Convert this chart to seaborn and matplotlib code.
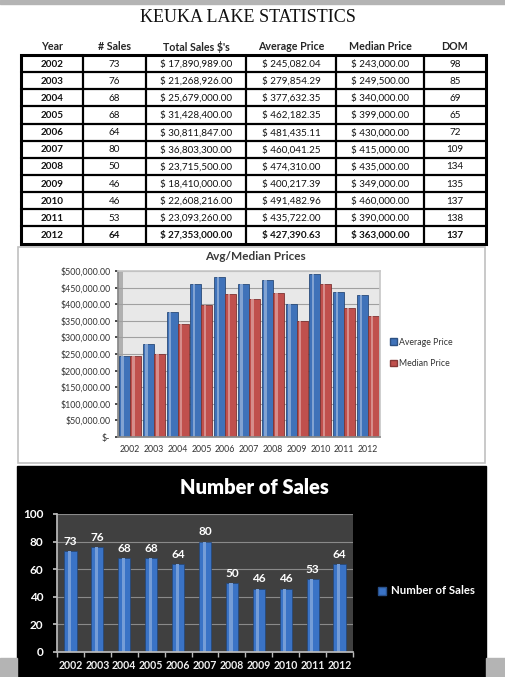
import numpy as np
import pandas as pd
import seaborn as sns
import matplotlib.pyplot as plt
from matplotlib.patches import Rectangle
from matplotlib.colors import to_rgb

# %%
# data
years = ['2002', '2003', '2004', '2005', '2006', '2007', '2008', '2009', '2010', '2011', '2012']
num_sales = [73, 76, 68, 68, 64, 80, 50, 46, 46, 53, 64]
total_sales = [17890989.00, 21268926.00, 25679000.00, 31428400.00, 30811847.00, 36803300.00,
               23715500.00, 18410000.00, 22608216.00, 23093260.00, 27353000.00]
avg_price = [245082.04, 279854.29, 377632.35, 462182.35, 481435.11, 460041.25,
             474310.00, 400217.39, 491482.96, 435722.00, 427390.63]
median_price = [243000.00, 249500.00, 340000.00, 399000.00, 430000.00, 415000.00,
                435000.00, 349000.00, 460000.00, 390000.00, 363000.00]
dom = [98, 85, 69, 65, 72, 109, 134, 135, 137, 138, 137]

headers = ['Year', '# Sales', "Total Sales $'s", 'Average Price', 'Median Price', 'DOM']
price_ticks = list(range(0, 500001, 50000))
sales_ticks = [0, 20, 40, 60, 80, 100]

# %%
W, H = 506, 677


def box(x0, y0, x1, y1):
    # pixel box (top-left origin) -> figure fraction
    return [x0 / W, 1 - y1 / H, (x1 - x0) / W, (y1 - y0) / H]


def darker(c, f=0.7):
    r, g, b = to_rgb(c)
    return (r * f, g * f, b * f)


def lighter(c, f=0.5):
    r, g, b = to_rgb(c)
    return (r + (1 - r) * f, g + (1 - g) * f, b + (1 - b) * f)


sns.set_theme(style='white')
plt.rcParams['font.family'] = ['Lato', 'DejaVu Sans']

fig = plt.figure(figsize=(W / 100, H / 100), dpi=100)
bg = fig.add_axes([0, 0, 1, 1], zorder=0)
bg.set_xlim(0, W)
bg.set_ylim(H, 0)
bg.axis('off')

# page bits
bg.add_patch(Rectangle((0, 0), W, 4, color='#b4b4b4'))
bg.add_patch(Rectangle((18, 247), 467, 216, fill=False, ec='#c0c0c0', lw=1.2))
bg.add_patch(Rectangle((17, 466), 469, 211, color='black'))
bg.add_patch(Rectangle((0, 658), 17, 19, color='#b4b4b4'))
bg.add_patch(Rectangle((486, 658), 20, 19, color='#b4b4b4'))

bg.text(248, 17, 'KEUKA LAKE STATISTICS', family='Liberation Serif', fontsize=13,
        ha='center', va='center', color='#111111')

# %%
# table
col_edges = [20.7, 82.7, 146, 246, 336, 424, 486]
col_mid = [(a + b) / 2 for a, b in zip(col_edges[:-1], col_edges[1:])]
top, bottom = 55, 243.5
row_h = (bottom - top) / len(years)

for c, h in zip(col_mid, headers):
    bg.text(c, 47, h, fontsize=7.7, fontweight='bold', ha='center', va='center')

for i, yr in enumerate(years):
    yc = top + row_h * (i + 0.5)
    cells = [yr, str(num_sales[i]), f'$ {total_sales[i]:,.2f}', f'$ {avg_price[i]:,.2f}',
             f'$ {median_price[i]:,.2f}', str(dom[i])]
    last = i == len(years) - 1
    for j, (c, s) in enumerate(zip(col_mid, cells)):
        bold = (j == 0) or last
        bg.text(c, yc + 0.5, s, fontsize=7.1, fontweight='bold' if bold else 'normal',
                ha='center', va='center', color='#111111')

for k in range(1, len(years)):
    y = top + row_h * k
    bg.plot([col_edges[0], col_edges[-1]], [y, y], color='black', lw=1.6)
for x in col_edges[1:-1]:
    bg.plot([x, x], [top, bottom], color='black', lw=1.6)
bg.add_patch(Rectangle((col_edges[0], top), col_edges[-1] - col_edges[0], bottom - top,
                       fill=False, ec='black', lw=2.2))

# %%
# Avg / Median chart
blue, red = '#3f72b9', '#c0504d'
df_price = pd.DataFrame({
    'Year': years * 2,
    'Series': ['Average Price'] * len(years) + ['Median Price'] * len(years),
    'Price': avg_price + median_price,
})

ax1 = fig.add_axes(box(118, 271, 380, 437), zorder=2)
ax1.set_facecolor('#e8e8e8')
ax1.grid(axis='y', color='#a0a0a0', lw=0.8)
ax1.set_axisbelow(True)
sns.barplot(data=df_price, x='Year', y='Price', hue='Series', palette={'Average Price': blue, 'Median Price': red},
            width=0.92, saturation=1, ax=ax1, legend=False)
for p in list(ax1.patches):
    fc = p.get_facecolor()
    p.set_edgecolor(darker(fc, 0.65))
    p.set_linewidth(0.6)
    x, w, h = p.get_x(), p.get_width(), p.get_height()
    ax1.add_patch(Rectangle((x + w * 0.22, 0), w * 0.22, h, color=lighter(fc, 0.35), lw=0, zorder=p.get_zorder() + 0.1))
ax1.add_patch(Rectangle((0, 0), 0.02, 1, transform=ax1.transAxes, color='#b0b0b0', lw=0, zorder=0.5))
ax1.set_ylim(0, 500000)
ax1.set_xlim(-0.5, len(years) - 0.5)
ax1.set_yticks(price_ticks)
ax1.set_yticklabels(['$-' if v == 0 else f'${v:,.2f}' for v in price_ticks])
ax1.set_xlabel('')
ax1.set_ylabel('')
ax1.tick_params(axis='both', labelsize=6.3, colors='#333333', pad=3, length=2.5, left=True, bottom=False)
ax1.set_xticks(np.arange(-0.5, len(years)), minor=True)
ax1.tick_params(axis='x', which='minor', length=2.5, color='#777777')
for s in ['left', 'bottom']:
    ax1.spines[s].set_color('#888888')
for s in ['top', 'right']:
    ax1.spines[s].set_color('#c8c8c8')

fig.text(255 / W, 1 - 257 / H, 'Avg/Median Prices', fontsize=8.5, fontweight='bold', color='#3a3a3a',
         ha='center', va='center')
h1 = [Rectangle((0, 0), 1, 1, fc=blue, ec=darker(blue)), Rectangle((0, 0), 1, 1, fc=red, ec=darker(red))]
fig.legend(h1, ['Average Price', 'Median Price'], loc='center left', bbox_to_anchor=(382 / W, 1 - 353 / H),
           frameon=False, fontsize=6.3, handlelength=0.8, handleheight=0.8, handletextpad=0.3,
           labelspacing=1.4, labelcolor='#333333')

# %%
# Number of Sales chart
sblue = '#3a73c6'
ax2 = fig.add_axes(box(57, 514, 353, 652), zorder=2)
ax2.set_facecolor('#404040')
ax2.grid(axis='y', color='#8a8a8a', lw=0.8)
ax2.set_axisbelow(True)
sns.barplot(x=years, y=num_sales, color=sblue, width=0.45, saturation=1, ax=ax2)
for p in list(ax2.patches):
    p.set_edgecolor(darker(sblue, 0.6))
    p.set_linewidth(0.5)
    x, w, h = p.get_x(), p.get_width(), p.get_height()
    ax2.add_patch(Rectangle((x + w * 0.3, 0), w * 0.25, h, color=lighter(sblue, 0.3), lw=0, zorder=p.get_zorder() + 0.1))
ax2.bar_label(ax2.containers[0], fontsize=8.5, color='white', fontweight='bold', padding=3)
ax2.set_ylim(0, 100)
ax2.set_xlim(-0.5, len(years) - 0.5)
ax2.set_yticks(sales_ticks)
ax2.tick_params(axis='y', labelsize=8.5, labelcolor='white', color='#bbbbbb', length=3, left=True, pad=7)
ax2.tick_params(axis='x', labelsize=7.6, labelcolor='#f0f0f0', length=0, pad=6)
ax2.set_xticks(np.arange(-0.5, len(years)), minor=True)
ax2.tick_params(axis='x', which='minor', length=3.5, color='#bbbbbb', bottom=True)
for t in ax2.get_yticklabels():
    t.set_fontweight('bold')
for t in ax2.get_xticklabels():
    t.set_fontweight('bold')
for s in ['left', 'bottom']:
    ax2.spines[s].set_color('#bbbbbb')
for s in ['top', 'right']:
    ax2.spines[s].set_visible(False)

fig.text(254 / W, 1 - 488 / H, 'Number of Sales', fontsize=14.5, fontweight='heavy', color='white',
         ha='center', va='center')
h2 = [Rectangle((0, 0), 1, 1, fc=sblue, ec=darker(sblue))]
fig.legend(h2, ['Number of Sales'], loc='center left', bbox_to_anchor=(368 / W, 1 - 591 / H),
           frameon=False, prop={'size': 8.2, 'weight': 'bold'}, labelcolor='white',
           handlelength=0.7, handleheight=0.7, handletextpad=0.4)

fig.savefig('out.png', dpi=100)
